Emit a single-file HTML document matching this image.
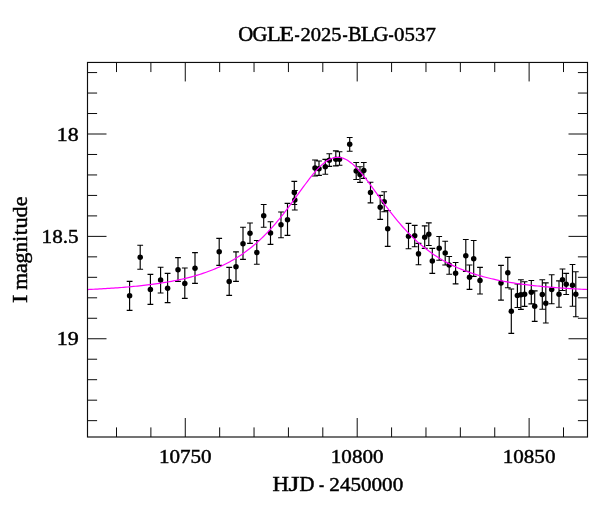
<!DOCTYPE html>
<html><head><meta charset="utf-8"><title>OGLE-2025-BLG-0537</title>
<style>
html,body{margin:0;padding:0;background:#fff;}
svg{display:block;will-change:transform;}
text{font-family:"Liberation Serif",serif;fill:#000;stroke:#000;stroke-width:0.45px;}
</style></head>
<body>
<svg width="600" height="512" viewBox="0 0 600 512">
<rect width="600" height="512" fill="#fff"/>
<path d="M129.6,281.4V310.4M126.7,281.4H132.5M126.7,310.4H132.5M140.2,245.2V269.2M137.3,245.2H143.1M137.3,269.2H143.1M150.4,274.4V304.4M147.5,274.4H153.3M147.5,304.4H153.3M160.6,267.2V293.0M157.7,267.2H163.5M157.7,293.0H163.5M167.6,273.4V302.6M164.7,273.4H170.5M164.7,302.6H170.5M178.0,257.6V281.4M175.1,257.6H180.9M175.1,281.4H180.9M184.8,268.0V298.4M181.9,268.0H187.7M181.9,298.4H187.7M195.0,252.6V283.4M192.1,252.6H197.9M192.1,283.4H197.9M219.2,238.4V265.4M216.3,238.4H222.1M216.3,265.4H222.1M229.2,267.4V295.4M226.3,267.4H232.1M226.3,295.4H232.1M236.0,251.8V281.3M233.1,251.8H238.9M233.1,281.3H238.9M243.0,227.2V259.3M240.1,227.2H245.9M240.1,259.3H245.9M250.0,223.0V243.3M247.1,223.0H252.9M247.1,243.3H252.9M256.8,240.5V264.2M253.9,240.5H259.7M253.9,264.2H259.7M263.7,204.5V227.2M260.8,204.5H266.6M260.8,227.2H266.6M270.5,221.7V244.3M267.6,221.7H273.4M267.6,244.3H273.4M281.0,212.0V237.7M278.1,212.0H283.9M278.1,237.7H283.9M287.5,203.3V235.3M284.6,203.3H290.4M284.6,235.3H290.4M294.3,181.3V204.5M291.4,181.3H297.2M291.4,204.5H297.2M294.8,190.5V210.0M291.9,190.5H297.7M291.9,210.0H297.7M315.0,160.0V176.0M312.1,160.0H317.9M312.1,176.0H317.9M319.0,161.0V175.3M316.1,161.0H321.9M316.1,175.3H321.9M325.3,159.3V174.2M322.4,159.3H328.2M322.4,174.2H328.2M329.3,153.7V166.3M326.4,153.7H332.2M326.4,166.3H332.2M335.8,150.8V165.8M332.9,150.8H338.7M332.9,165.8H338.7M339.5,151.7V165.2M336.6,151.7H342.4M336.6,165.2H342.4M349.7,137.5V151.2M346.8,137.5H352.6M346.8,151.2H352.6M356.2,162.5V179.5M353.3,162.5H359.1M353.3,179.5H359.1M360.0,166.7V182.3M357.1,166.7H362.9M357.1,182.3H362.9M363.8,162.5V178.3M360.9,162.5H366.7M360.9,178.3H366.7M370.5,182.2V202.8M367.6,182.2H373.4M367.6,202.8H373.4M380.2,195.3V219.3M377.3,195.3H383.1M377.3,219.3H383.1M384.2,191.7V211.7M381.3,191.7H387.1M381.3,211.7H387.1M387.7,210.5V246.3M384.8,210.5H390.6M384.8,246.3H390.6M408.5,223.3V248.7M405.6,223.3H411.4M405.6,248.7H411.4M414.7,225.3V246.7M411.8,225.3H417.6M411.8,246.7H417.6M418.5,243.3V264.7M415.6,243.3H421.4M415.6,264.7H421.4M424.7,225.8V248.3M421.8,225.8H427.6M421.8,248.3H427.6M428.8,222.8V245.5M425.9,222.8H431.7M425.9,245.5H431.7M432.3,248.3V273.3M429.4,248.3H435.2M429.4,273.3H435.2M439.2,236.5V260.2M436.3,236.5H442.1M436.3,260.2H442.1M445.2,241.2V265.0M442.3,241.2H448.1M442.3,265.0H448.1M449.2,256.5V274.2M446.3,256.5H452.1M446.3,274.2H452.1M455.6,262.5V283.8M452.7,262.5H458.5M452.7,283.8H458.5M465.8,239.5V271.3M462.9,239.5H468.7M462.9,271.3H468.7M469.5,265.0V289.3M466.6,265.0H472.4M466.6,289.3H472.4M473.7,240.5V276.3M470.8,240.5H476.6M470.8,276.3H476.6M480.0,267.3V294.0M477.1,267.3H482.9M477.1,294.0H482.9M501.0,265.4V300.1M498.1,265.4H503.9M498.1,300.1H503.9M507.8,257.4V287.7M504.9,257.4H510.7M504.9,287.7H510.7M511.3,289.0V333.3M508.4,289.0H514.2M508.4,333.3H514.2M517.4,284.0V307.5M514.5,284.0H520.3M514.5,307.5H520.3M520.9,279.7V309.3M518.0,279.7H523.8M518.0,309.3H523.8M524.6,281.7V306.3M521.7,281.7H527.5M521.7,306.3H527.5M531.3,280.5V303.8M528.4,280.5H534.2M528.4,303.8H534.2M534.7,290.8V321.3M531.8,290.8H537.6M531.8,321.3H537.6M542.3,279.7V309.2M539.4,279.7H545.2M539.4,309.2H545.2M545.8,282.8V323.0M542.9,282.8H548.7M542.9,323.0H548.7M551.7,274.7V303.7M548.8,274.7H554.6M548.8,303.7H554.6M559.0,280.8V307.2M556.1,280.8H561.9M556.1,307.2H561.9M562.5,269.0V290.5M559.6,269.0H565.4M559.6,290.5H565.4M566.2,273.3V294.5M563.3,273.3H569.1M563.3,294.5H569.1M572.5,264.5V306.2M569.6,264.5H575.4M569.6,306.2H575.4M575.8,271.7V316.7M572.9,271.7H578.7M572.9,316.7H578.7" fill="none" stroke="#000" stroke-width="1.15"/>
<circle cx="129.6" cy="295.8" r="2.75" fill="#000"/>
<circle cx="140.2" cy="257.2" r="2.75" fill="#000"/>
<circle cx="150.4" cy="289.6" r="2.75" fill="#000"/>
<circle cx="160.6" cy="280.0" r="2.75" fill="#000"/>
<circle cx="167.6" cy="288.2" r="2.75" fill="#000"/>
<circle cx="178.0" cy="269.8" r="2.75" fill="#000"/>
<circle cx="184.8" cy="283.4" r="2.75" fill="#000"/>
<circle cx="195.0" cy="268.2" r="2.75" fill="#000"/>
<circle cx="219.2" cy="251.8" r="2.75" fill="#000"/>
<circle cx="229.2" cy="281.4" r="2.75" fill="#000"/>
<circle cx="236.0" cy="266.7" r="2.75" fill="#000"/>
<circle cx="243.0" cy="243.7" r="2.75" fill="#000"/>
<circle cx="250.0" cy="233.3" r="2.75" fill="#000"/>
<circle cx="256.8" cy="252.5" r="2.75" fill="#000"/>
<circle cx="263.7" cy="215.8" r="2.75" fill="#000"/>
<circle cx="270.5" cy="233.0" r="2.75" fill="#000"/>
<circle cx="281.0" cy="224.8" r="2.75" fill="#000"/>
<circle cx="287.5" cy="219.7" r="2.75" fill="#000"/>
<circle cx="294.3" cy="192.5" r="2.75" fill="#000"/>
<circle cx="294.8" cy="200.0" r="2.75" fill="#000"/>
<circle cx="315.0" cy="168.0" r="2.75" fill="#000"/>
<circle cx="319.0" cy="168.7" r="2.75" fill="#000"/>
<circle cx="325.3" cy="166.7" r="2.75" fill="#000"/>
<circle cx="329.3" cy="160.2" r="2.75" fill="#000"/>
<circle cx="335.8" cy="159.2" r="2.75" fill="#000"/>
<circle cx="339.5" cy="159.2" r="2.75" fill="#000"/>
<circle cx="349.7" cy="144.3" r="2.75" fill="#000"/>
<circle cx="356.2" cy="171.0" r="2.75" fill="#000"/>
<circle cx="360.0" cy="174.5" r="2.75" fill="#000"/>
<circle cx="363.8" cy="170.5" r="2.75" fill="#000"/>
<circle cx="370.5" cy="192.6" r="2.75" fill="#000"/>
<circle cx="380.2" cy="207.2" r="2.75" fill="#000"/>
<circle cx="384.2" cy="201.7" r="2.75" fill="#000"/>
<circle cx="387.7" cy="228.7" r="2.75" fill="#000"/>
<circle cx="408.5" cy="236.2" r="2.75" fill="#000"/>
<circle cx="414.7" cy="235.8" r="2.75" fill="#000"/>
<circle cx="418.5" cy="253.8" r="2.75" fill="#000"/>
<circle cx="424.7" cy="237.2" r="2.75" fill="#000"/>
<circle cx="428.8" cy="234.2" r="2.75" fill="#000"/>
<circle cx="432.3" cy="260.9" r="2.75" fill="#000"/>
<circle cx="439.2" cy="248.3" r="2.75" fill="#000"/>
<circle cx="445.2" cy="253.0" r="2.75" fill="#000"/>
<circle cx="449.2" cy="265.0" r="2.75" fill="#000"/>
<circle cx="455.6" cy="273.3" r="2.75" fill="#000"/>
<circle cx="465.8" cy="255.7" r="2.75" fill="#000"/>
<circle cx="469.5" cy="277.3" r="2.75" fill="#000"/>
<circle cx="473.7" cy="258.7" r="2.75" fill="#000"/>
<circle cx="480.0" cy="280.5" r="2.75" fill="#000"/>
<circle cx="501.0" cy="282.9" r="2.75" fill="#000"/>
<circle cx="507.8" cy="272.7" r="2.75" fill="#000"/>
<circle cx="511.3" cy="311.3" r="2.75" fill="#000"/>
<circle cx="517.4" cy="295.6" r="2.75" fill="#000"/>
<circle cx="520.9" cy="294.8" r="2.75" fill="#000"/>
<circle cx="524.6" cy="294.2" r="2.75" fill="#000"/>
<circle cx="531.3" cy="292.2" r="2.75" fill="#000"/>
<circle cx="534.7" cy="306.3" r="2.75" fill="#000"/>
<circle cx="542.3" cy="294.5" r="2.75" fill="#000"/>
<circle cx="545.8" cy="303.3" r="2.75" fill="#000"/>
<circle cx="551.7" cy="289.5" r="2.75" fill="#000"/>
<circle cx="559.0" cy="294.2" r="2.75" fill="#000"/>
<circle cx="562.5" cy="279.7" r="2.75" fill="#000"/>
<circle cx="566.2" cy="284.2" r="2.75" fill="#000"/>
<circle cx="572.5" cy="285.3" r="2.75" fill="#000"/>
<circle cx="575.8" cy="294.2" r="2.75" fill="#000"/>
<path d="M87.5,289.53 L89.5,289.44 L91.5,289.34 L93.5,289.25 L95.5,289.14 L97.5,289.04 L99.5,288.93 L101.5,288.82 L103.5,288.70 L105.5,288.58 L107.5,288.46 L109.5,288.34 L111.5,288.20 L113.5,288.07 L115.5,287.93 L117.5,287.79 L119.5,287.64 L121.5,287.48 L123.5,287.32 L125.5,287.16 L127.5,286.99 L129.5,286.81 L131.5,286.63 L133.5,286.44 L135.5,286.25 L137.5,286.05 L139.5,285.84 L141.5,285.62 L143.5,285.40 L145.5,285.17 L147.5,284.93 L149.5,284.68 L151.5,284.43 L153.5,284.16 L155.5,283.89 L157.5,283.60 L159.5,283.31 L161.5,283.00 L163.5,282.68 L165.5,282.36 L167.5,282.01 L169.5,281.66 L171.5,281.30 L173.5,280.92 L175.5,280.52 L177.5,280.12 L179.5,279.69 L181.5,279.26 L183.5,278.80 L185.5,278.33 L187.5,277.84 L189.5,277.33 L191.5,276.80 L193.5,276.26 L195.5,275.69 L197.5,275.10 L199.5,274.49 L201.5,273.85 L203.5,273.19 L205.5,272.51 L207.5,271.80 L209.5,271.06 L211.5,270.30 L213.5,269.50 L215.5,268.68 L217.5,267.82 L219.5,266.93 L221.5,266.01 L223.5,265.05 L225.5,264.05 L227.5,263.02 L229.5,261.95 L231.5,260.84 L233.5,259.68 L235.5,258.49 L237.5,257.25 L239.5,255.96 L241.5,254.63 L243.5,253.24 L245.5,251.81 L247.5,250.33 L249.5,248.79 L251.5,247.20 L253.5,245.55 L255.5,243.85 L257.5,242.09 L259.5,240.27 L261.5,238.39 L263.5,236.45 L265.5,234.45 L267.5,232.39 L269.5,230.27 L271.5,228.09 L273.5,225.84 L275.5,223.54 L277.5,221.18 L279.5,218.76 L281.5,216.28 L283.5,213.76 L285.5,211.18 L287.5,208.56 L289.5,205.90 L291.5,203.20 L293.5,200.48 L295.5,197.73 L297.5,194.97 L299.5,192.20 L301.5,189.44 L303.5,186.70 L305.5,183.99 L307.5,181.32 L309.5,178.71 L311.5,176.17 L313.5,173.72 L315.5,171.38 L317.5,169.16 L319.5,167.08 L321.5,165.16 L323.5,163.41 L325.5,161.86 L327.5,160.52 L329.5,159.39 L331.5,158.50 L333.5,157.85 L335.5,157.45 L337.5,157.31 L339.5,157.41 L341.5,157.78 L343.5,158.39 L345.5,159.25 L347.5,160.34 L349.5,161.65 L351.5,163.17 L353.5,164.89 L355.5,166.78 L357.5,168.84 L359.5,171.04 L361.5,173.37 L363.5,175.80 L365.5,178.33 L367.5,180.93 L369.5,183.59 L371.5,186.30 L373.5,189.03 L375.5,191.79 L377.5,194.56 L379.5,197.32 L381.5,200.07 L383.5,202.80 L385.5,205.50 L387.5,208.17 L389.5,210.80 L391.5,213.38 L393.5,215.91 L395.5,218.40 L397.5,220.82 L399.5,223.20 L401.5,225.51 L403.5,227.76 L405.5,229.95 L407.5,232.08 L409.5,234.15 L411.5,236.16 L413.5,238.11 L415.5,240.00 L417.5,241.82 L419.5,243.59 L421.5,245.30 L423.5,246.96 L425.5,248.56 L427.5,250.10 L429.5,251.59 L431.5,253.04 L433.5,254.43 L435.5,255.77 L437.5,257.06 L439.5,258.31 L441.5,259.51 L443.5,260.67 L445.5,261.79 L447.5,262.86 L449.5,263.90 L451.5,264.90 L453.5,265.87 L455.5,266.79 L457.5,267.69 L459.5,268.55 L461.5,269.38 L463.5,270.18 L465.5,270.95 L467.5,271.69 L469.5,272.41 L471.5,273.09 L473.5,273.76 L475.5,274.40 L477.5,275.01 L479.5,275.60 L481.5,276.17 L483.5,276.72 L485.5,277.25 L487.5,277.77 L489.5,278.26 L491.5,278.73 L493.5,279.19 L495.5,279.63 L497.5,280.06 L499.5,280.47 L501.5,280.86 L503.5,281.24 L505.5,281.61 L507.5,281.96 L509.5,282.31 L511.5,282.64 L513.5,282.95 L515.5,283.26 L517.5,283.56 L519.5,283.84 L521.5,284.12 L523.5,284.39 L525.5,284.64 L527.5,284.89 L529.5,285.13 L531.5,285.37 L533.5,285.59 L535.5,285.81 L537.5,286.02 L539.5,286.22 L541.5,286.41 L543.5,286.60 L545.5,286.79 L547.5,286.96 L549.5,287.13 L551.5,287.30 L553.5,287.46 L555.5,287.61 L557.5,287.76 L559.5,287.91 L561.5,288.05 L563.5,288.18 L565.5,288.32 L567.5,288.44 L569.5,288.57 L571.5,288.69 L573.5,288.80 L575.5,288.91 L577.5,289.02 L579.5,289.13 L581.5,289.23 L583.5,289.33 L585.5,289.43 L587.5,289.52" fill="none" stroke="#ff00ff" stroke-width="1.2"/>
<path d="M116.50,437.0v-9.6M116.50,62.45v9.6M150.89,437.0v-9.6M150.89,62.45v9.6M185.27,437.0v-19M185.27,62.45v19M219.66,437.0v-9.6M219.66,62.45v9.6M254.04,437.0v-9.6M254.04,62.45v9.6M288.43,437.0v-9.6M288.43,62.45v9.6M322.81,437.0v-9.6M322.81,62.45v9.6M357.19,437.0v-19M357.19,62.45v19M391.58,437.0v-9.6M391.58,62.45v9.6M425.97,437.0v-9.6M425.97,62.45v9.6M460.35,437.0v-9.6M460.35,62.45v9.6M494.74,437.0v-9.6M494.74,62.45v9.6M529.12,437.0v-19M529.12,62.45v19M563.50,437.0v-9.6M563.50,62.45v9.6M87.5,72.57h9.6M587.5,72.57h-9.6M87.5,93.05h9.6M587.5,93.05h-9.6M87.5,113.52h9.6M587.5,113.52h-9.6M87.5,134.00h19M587.5,134.00h-19M87.5,154.48h9.6M587.5,154.48h-9.6M87.5,174.95h9.6M587.5,174.95h-9.6M87.5,195.43h9.6M587.5,195.43h-9.6M87.5,215.90h9.6M587.5,215.90h-9.6M87.5,236.38h19M587.5,236.38h-19M87.5,256.85h9.6M587.5,256.85h-9.6M87.5,277.32h9.6M587.5,277.32h-9.6M87.5,297.80h9.6M587.5,297.80h-9.6M87.5,318.27h9.6M587.5,318.27h-9.6M87.5,338.75h19M587.5,338.75h-19M87.5,359.23h9.6M587.5,359.23h-9.6M87.5,379.70h9.6M587.5,379.70h-9.6M87.5,400.18h9.6M587.5,400.18h-9.6M87.5,420.65h9.6M587.5,420.65h-9.6" fill="none" stroke="#0d0d0d" stroke-width="1"/>
<rect x="87.5" y="62.45" width="500.0" height="374.55" fill="none" stroke="#0d0d0d" stroke-width="1.15"/>
<text transform="translate(238.25,41) scale(1.065,1.03)" font-size="19.5">O</text>
<text transform="translate(252.45,41) scale(1.057,1.03)" font-size="19.5">G</text>
<text transform="translate(266.95,41) scale(1.149,1.03)" font-size="19.5">L</text>
<text transform="translate(279.30,41) scale(1.243,1.03)" font-size="19.5">E</text>
<text transform="translate(294.43,41) scale(0.790,1.03)" font-size="19.5">-</text>
<text transform="translate(342.43,41) scale(0.790,1.03)" font-size="19.5">-</text>
<text transform="translate(348.11,41) scale(1.044,1.03)" font-size="19.5">B</text>
<text transform="translate(360.64,41) scale(1.179,1.03)" font-size="19.5">L</text>
<text transform="translate(373.14,41) scale(1.081,1.03)" font-size="19.5">G</text>
<text transform="translate(388.43,41) scale(0.790,1.03)" font-size="19.5">-</text>
<text x="300.40" y="41" font-size="19.6" textLength="41.11" lengthAdjust="spacingAndGlyphs">2025</text>
<text x="394.10" y="41" font-size="19.6" textLength="41.80" lengthAdjust="spacingAndGlyphs">0537</text>
<text x="158.92" y="462.6" font-size="19.6" textLength="52.65" lengthAdjust="spacingAndGlyphs">10750</text>
<text x="330.84" y="462.6" font-size="19.6" textLength="52.65" lengthAdjust="spacingAndGlyphs">10800</text>
<text x="502.77" y="462.6" font-size="19.6" textLength="52.65" lengthAdjust="spacingAndGlyphs">10850</text>
<text transform="translate(272.54,491.2) scale(1.166,1.03)" font-size="19.5">H</text>
<text transform="translate(288.41,491.2) scale(1.448,1.03)" font-size="19.5">J</text>
<text transform="translate(299.40,491.2) scale(1.060,1.03)" font-size="19.5">D</text>
<text transform="translate(319.03,491.2) scale(0.790,1.03)" font-size="19.5">-</text>
<text x="329.37" y="491.2" font-size="19.6" textLength="73.83" lengthAdjust="spacingAndGlyphs">2450000</text>
<text x="56.78" y="140.6" font-size="19.1" textLength="21.85" lengthAdjust="spacingAndGlyphs">18</text>
<text x="41.64" y="243.0" font-size="19.1" textLength="36.98" lengthAdjust="spacingAndGlyphs">18.5</text>
<text x="56.77" y="345.4" font-size="19.1" textLength="21.93" lengthAdjust="spacingAndGlyphs">19</text>
<g transform="translate(26.8,302.1) rotate(-90)"><text transform="translate(-0.90,0) scale(1.274,1.03)" font-size="19.5">I</text><text transform="translate(12.34,0) scale(1.121,1.03)" font-size="19.5">m</text><text transform="translate(29.13,0) scale(1.129,1.03)" font-size="19.5">a</text><text transform="translate(38.56,0) scale(1.124,1.03)" font-size="19.5">g</text><text transform="translate(49.83,0) scale(1.044,1.03)" font-size="19.5">n</text><text transform="translate(60.47,0) scale(1.057,1.03)" font-size="19.5">i</text><text transform="translate(66.78,0) scale(1.134,1.03)" font-size="19.5">t</text><text transform="translate(73.51,0) scale(1.146,1.03)" font-size="19.5">u</text><text transform="translate(84.71,0) scale(1.124,1.03)" font-size="19.5">d</text><text transform="translate(95.73,0) scale(1.136,1.03)" font-size="19.5">e</text></g>
</svg>
</body></html>
